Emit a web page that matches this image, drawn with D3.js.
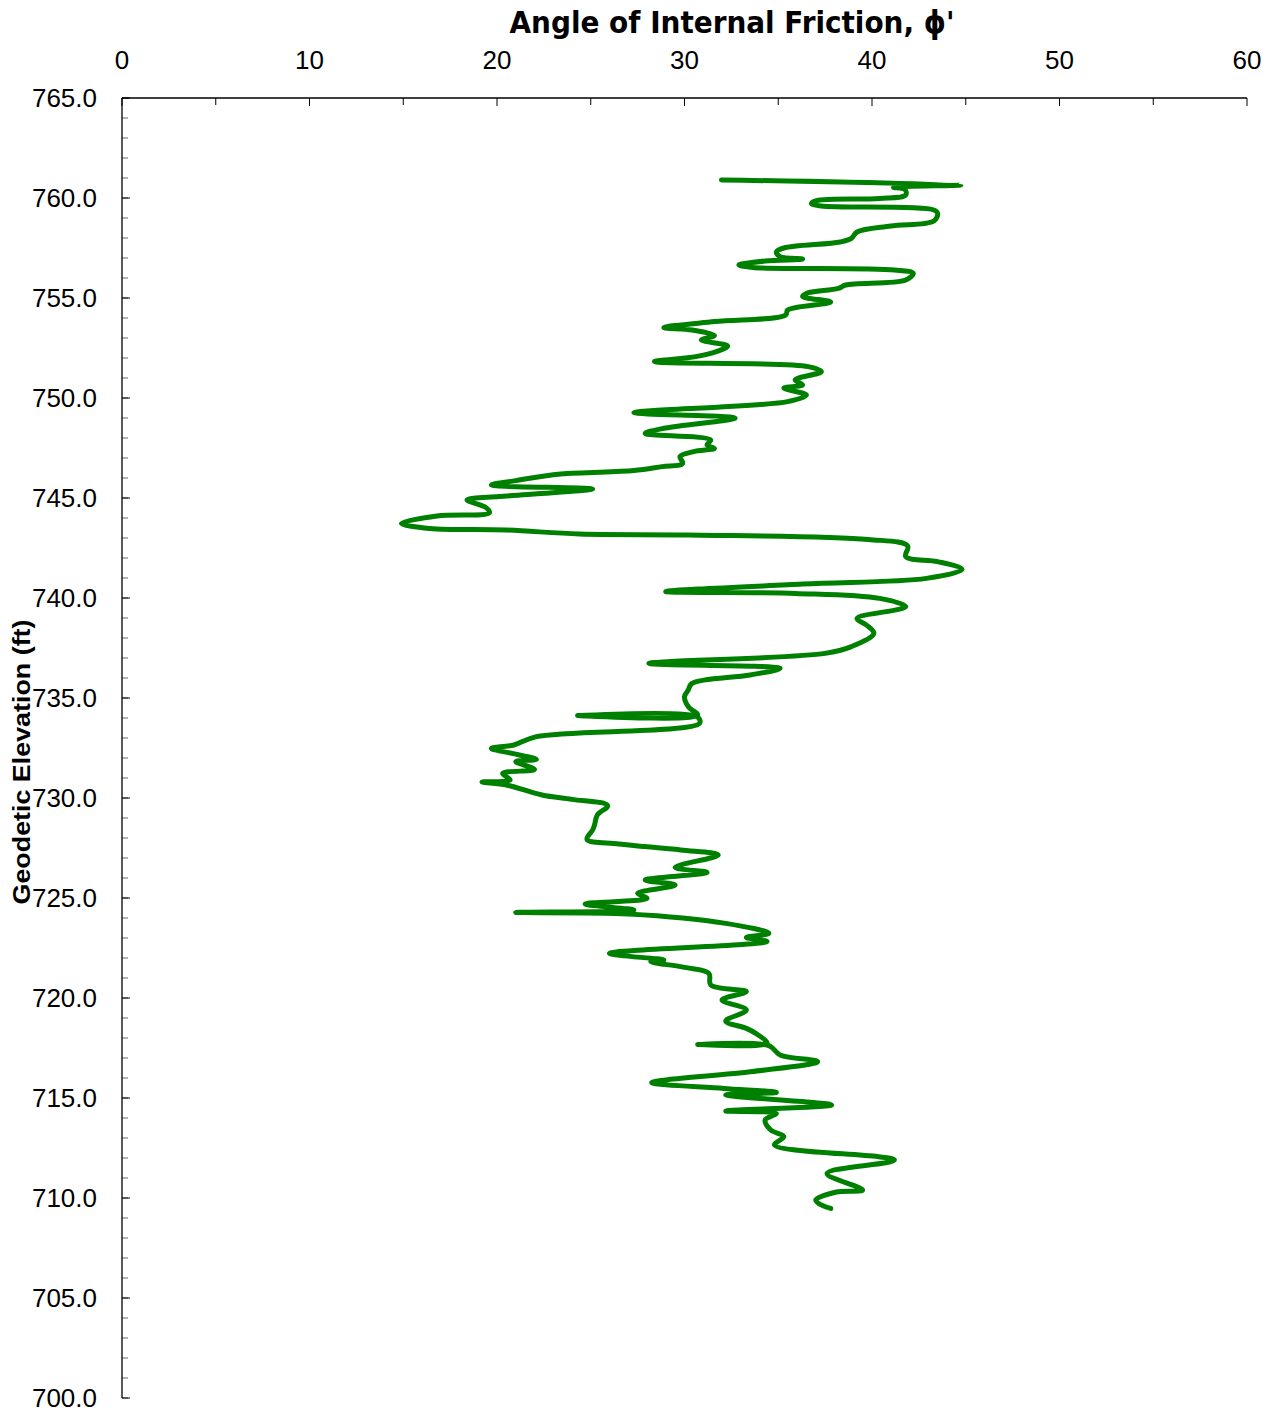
<!DOCTYPE html>
<html>
<head>
<meta charset="utf-8">
<script src="https://cdn.jsdelivr.net/npm/d3@7"></script>
<style>
  body { margin: 0; background: #fff; }
  svg { display: block; }
</style>
</head>
<body>
<svg id="chart" width="1270" height="1412"></svg>
<script>
// elevation (ft) down the sounding, top to bottom
var elevation = [
  760.90, 760.65, 760.53, 760.42, 760.15, 759.98, 759.87, 759.72, 759.60, 759.40,
  759.23, 758.85, 758.60, 758.30, 757.98, 757.80, 757.50, 757.30, 757.07, 756.95,
  756.85, 756.65, 756.53, 756.40, 756.23, 755.90, 755.65, 755.48, 755.23, 755.07,
  754.80, 754.40, 754.15, 753.82, 753.52, 753.40, 753.12, 752.90, 752.60, 752.32,
  752.07, 751.82, 751.57, 751.32, 750.90, 750.65, 750.50, 750.15, 749.82, 749.27,
  749.00, 748.50, 748.23, 747.90, 747.65, 747.48, 747.32, 747.07, 746.73, 746.57,
  746.37, 746.20, 745.87, 745.65, 745.45, 745.20, 745.07, 744.90, 744.53, 744.27,
  744.10, 743.73, 743.48, 743.40, 743.20, 743.15, 742.93, 742.60, 742.07, 741.82,
  741.43, 740.98, 740.70, 740.32, 740.23, 739.98, 739.57, 738.98, 738.65, 738.23,
  737.57, 737.23, 736.73, 736.48, 736.15, 735.73, 735.40, 735.07, 734.57, 734.14,
  734.12, 734.05, 733.73, 733.07, 732.65, 732.48, 732.23, 731.93, 731.82, 731.43,
  731.23, 730.90, 730.80, 730.65, 730.15, 729.93, 729.62, 729.15, 728.65, 728.40,
  727.93, 727.70, 727.40, 727.15, 726.53, 726.28, 725.90, 725.65, 725.23, 724.98,
  724.70, 724.40, 724.28, 724.20, 723.73, 723.23, 723.03, 722.82, 722.23, 721.90,
  721.82, 721.53, 721.23, 720.65, 720.32, 719.90, 719.40, 718.85, 718.48, 718.23,
  717.73, 717.68, 717.62, 717.15, 716.82, 716.32, 715.77, 715.48, 715.28, 715.15,
  714.65, 714.35, 714.23, 713.90, 713.40, 713.07, 712.65, 711.90, 711.23, 710.40,
  710.30, 709.90, 709.70, 709.48
];

// angle of internal friction, phi' (deg)
var phi = [
  31.97, 44.74, 41.15, 41.76, 41.80, 40.40, 37.04, 36.77, 37.30, 43.30,
  43.50, 43.30, 41.00, 39.20, 38.90, 38.30, 35.30, 34.90, 35.10, 36.30,
  34.30, 32.90, 33.65, 41.20, 42.20, 41.80, 38.60, 38.20, 36.50, 36.30,
  37.80, 35.50, 35.40, 31.60, 28.90, 30.40, 31.60, 30.90, 32.30, 31.70,
  30.60, 28.40, 36.60, 37.30, 35.90, 36.30, 35.30, 36.50, 35.50, 27.30,
  32.70, 29.00, 27.90, 31.40, 31.20, 31.60, 30.50, 29.76, 29.90, 28.80,
  27.30, 23.40, 21.00, 19.70, 25.10, 22.00, 20.10, 18.40, 19.40, 19.60,
  16.80, 14.90, 16.40, 20.50, 24.40, 30.20, 39.80, 41.90, 41.80, 43.50,
  44.80, 42.90, 36.30, 29.00, 35.90, 40.40, 41.80, 39.20, 39.70, 40.10,
  38.90, 37.50, 28.10, 35.10, 33.50, 30.40, 30.20, 30.00, 30.20, 30.70,
  24.30, 30.70, 30.80, 22.10, 20.90, 19.70, 20.80, 22.10, 21.00, 22.00,
  20.30, 20.70, 19.20, 20.50, 22.40, 24.00, 25.90, 25.35, 25.20, 25.10,
  24.80, 26.50, 29.80, 31.80, 29.50, 31.20, 27.90, 29.50, 27.50, 28.00,
  24.70, 27.30, 21.00, 27.00, 32.20, 34.50, 33.30, 34.40, 26.00, 28.90,
  28.20, 30.00, 31.30, 31.40, 33.30, 32.00, 33.30, 32.20, 33.30, 33.80,
  34.40, 30.70, 34.50, 35.10, 37.10, 33.60, 28.25, 32.10, 34.90, 32.20,
  37.85, 32.20, 34.90, 34.30, 34.60, 35.30, 34.80, 41.20, 37.60, 39.50,
  38.10, 37.00, 37.20, 37.80
];

var xTicks = [0, 10, 20, 30, 40, 50, 60];
var yTicks = [765, 760, 755, 750, 745, 740, 735, 730, 725, 720, 715, 710, 705, 700];

var margin = { top: 98, left: 122 },
  width = 1125,
  height = 1300;

var svg = d3.select("#chart");
var g = svg.append("g")
  .attr("transform", "translate(" + margin.left + "," + margin.top + ")");

var x = d3.scaleLinear().domain([0, 60]).range([0, width]);
var y = d3.scaleLinear().domain([700, 765]).range([height, 0]);

// minor ticks every foot
g.selectAll(".ytick-minor")
  .data(d3.range(700, 766, 1))
  .enter().append("line")
  .attr("x1", 0).attr("x2", 6)
  .attr("y1", function (d) { return y(d); })
  .attr("y2", function (d) { return y(d); })
  .attr("stroke", "#666")
  .attr("stroke-width", 1);

g.selectAll(".ytick-major")
  .data(yTicks)
  .enter().append("line")
  .attr("x1", 0).attr("x2", 8)
  .attr("y1", function (d) { return y(d); })
  .attr("y2", function (d) { return y(d); })
  .attr("stroke", "#000");

g.selectAll(".xtick")
  .data(d3.range(0, 61, 5))
  .enter().append("line")
  .attr("x1", function (d) { return x(d); })
  .attr("x2", function (d) { return x(d); })
  .attr("y1", 0)
  .attr("y2", function (d) { return d % 10 === 0 ? 8 : 7; })
  .attr("stroke", "#000");

// axis lines
g.append("line").attr("x1", 0).attr("x2", 0).attr("y1", 0).attr("y2", height)
  .attr("stroke", "#000").attr("stroke-width", 1.3);
g.append("line").attr("x1", 0).attr("x2", width).attr("y1", 0).attr("y2", 0)
  .attr("stroke", "#000").attr("stroke-width", 1.3);

// tick labels
g.selectAll(".ylab")
  .data(yTicks)
  .enter().append("text")
  .attr("x", -25)
  .attr("y", function (d) { return y(d); })
  .attr("dy", "0.36em")
  .attr("text-anchor", "end")
  .style("font-family", "'Liberation Sans', Arial, sans-serif")
  .style("font-size", "26px")
  .text(function (d) { return d.toFixed(1); });

g.selectAll(".xlab")
  .data(xTicks)
  .enter().append("text")
  .attr("x", function (d) { return x(d); })
  .attr("y", -29)
  .attr("text-anchor", "middle")
  .style("font-family", "'Liberation Sans', Arial, sans-serif")
  .style("font-size", "26px")
  .text(function (d) { return d; });

// titles
svg.append("text")
  .attr("x", 732)
  .attr("y", 33)
  .attr("text-anchor", "middle")
  .attr("textLength", 445)
  .attr("lengthAdjust", "spacingAndGlyphs")
  .style("font-family", "'DejaVu Sans', sans-serif")
  .style("font-weight", "bold")
  .style("font-size", "31px")
  .text("Angle of Internal Friction, \u03D5'");

svg.append("text")
  .attr("transform", "translate(30,762) rotate(-90)")
  .attr("text-anchor", "middle")
  .attr("textLength", 285)
  .attr("lengthAdjust", "spacingAndGlyphs")
  .style("font-family", "'Liberation Sans', Arial, sans-serif")
  .style("font-weight", "bold")
  .style("font-size", "24px")
  .text("Geodetic Elevation (ft)");

// the profile, smoothed like the source spreadsheet line
var line = d3.line()
  .x(function (d, i) { return x(phi[i]); })
  .y(function (d) { return y(d); })
  .curve(d3.curveCatmullRom.alpha(0.5));

g.append("path")
  .datum(elevation)
  .attr("d", line)
  .attr("fill", "none")
  .attr("stroke", "#008000")
  .attr("stroke-width", 5)
  .attr("stroke-linejoin", "round")
  .attr("stroke-linecap", "round");
</script>
</body>
</html>
